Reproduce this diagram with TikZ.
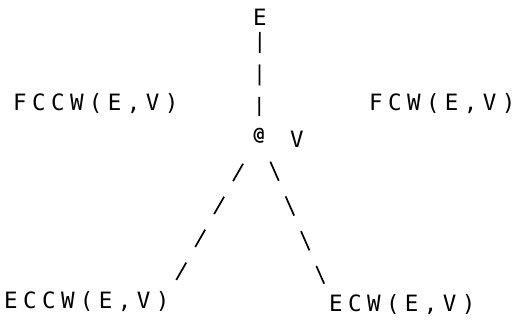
\documentclass[tikz,border=0pt]{standalone}
\usepackage{fontspec}
\newfontfamily\lpfont[LetterSpace=24]{DejaVu Sans Mono}
\newfontfamily\lpmark{DejaVu Sans Mono}
\begin{document}
\begin{tikzpicture}[x=1pt,y=-1pt,
  lbl/.style={inner sep=0pt,font=\fontsize{22.5}{22.5}\selectfont\lpfont},
  mk/.style={inner sep=0pt,font=\fontsize{18}{18}\selectfont\lpmark\bfseries},
  vdashline/.style={line width=1.7pt,dash pattern=on 21pt off 11.5pt},
  ldashline/.style={line width=1.7pt,dash pattern=on 20pt off 18pt},
  rdashline/.style={line width=1.7pt,dash pattern=on 21pt off 17pt}]
\useasboundingbox (0,0) rectangle (522,320);
\node[lbl] (E) at (260,17) {E};
\node[mk] (at) at (259,136) {@};
\node[lbl] (V) at (297,139) {V};
\node[lbl,anchor=west] (fccw) at (13,104) {FCCW(E,V)};
\node[lbl,anchor=west] (fcw) at (369,104) {FCW(E,V)};
\node[lbl,anchor=west] (eccw) at (4,302) {ECCW(E,V)};
\node[lbl,anchor=west] (ecw) at (329,305) {ECW(E,V)};
\draw[vdashline,shorten <=15pt,shorten >=20pt] (E.center) -- (at.center);
\draw[ldashline,shorten <=32pt,shorten >=9pt] (at.center) -- (eccw.north east);
\draw[rdashline,shorten <=28pt,shorten >=12pt] (at.center) -- (ecw.north west);
\end{tikzpicture}
\end{document}
